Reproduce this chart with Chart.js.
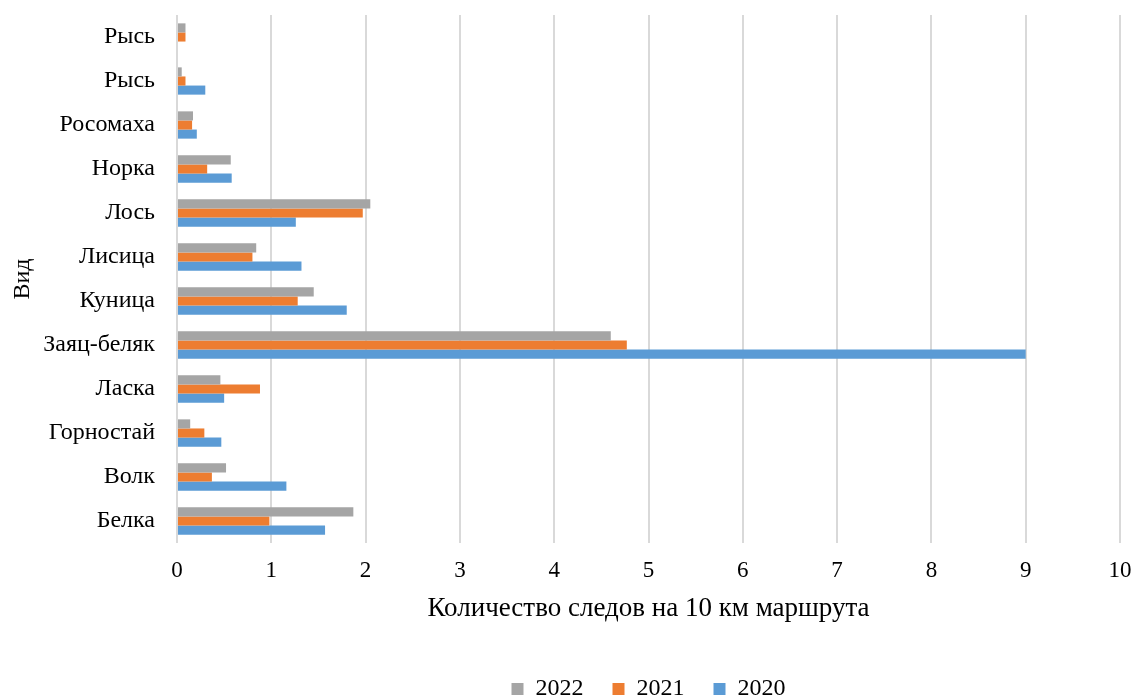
<!DOCTYPE html>
<html>
<head>
<meta charset="utf-8">
<script src="https://cdn.jsdelivr.net/npm/chart.js@4"></script>
<style>
    html, body { margin: 0; padding: 0; background: #fff; }
    #wrap { width: 1134px; height: 700px; }
</style>
</head>
<body>
<div id="wrap"><canvas id="tracks"></canvas></div>
<script>
// Data
var species = ["Рысь", "Рысь", "Росомаха", "Норка", "Лось", "Лисица", "Куница", "Заяц-беляк", "Ласка", "Горностай", "Волк", "Белка"];
var y2022 = [0.09, 0.05, 0.17, 0.57, 2.05, 0.84, 1.45, 4.6, 0.46, 0.14, 0.52, 1.87];
var y2021 = [0.09, 0.09, 0.16, 0.32, 1.97, 0.80, 1.28, 4.77, 0.88, 0.29, 0.37, 0.98];
var y2020 = [0, 0.30, 0.21, 0.58, 1.26, 1.32, 1.80, 9.0, 0.50, 0.47, 1.16, 1.57];
var xTicks = [0, 1, 2, 3, 4, 5, 6, 7, 8, 9, 10];

// Chart Global
Chart.defaults.font.family = "'Liberation Serif', 'Times New Roman', serif";
Chart.defaults.color = "#000000";

var ctx = document.getElementById("tracks").getContext("2d");
var tracksChart = new Chart(ctx, {
    type: "bar",
    data: {
        labels: species,
        datasets: [{
                label: "2022",
                data: y2022,
                backgroundColor: "#a5a5a5"
            },
            {
                label: "2021",
                data: y2021,
                backgroundColor: "#ed7d31"
            },
            {
                label: "2020",
                data: y2020,
                backgroundColor: "#5b9bd5"
            }
        ]
    },
    options: {
        indexAxis: "y",
        responsive: true,
        maintainAspectRatio: false,
        animation: false,
        layout: {
            padding: {top: 15, right: 0, left: 8, bottom: -11}
        },
        datasets: {
            bar: {
                categoryPercentage: 0.62,
                barPercentage: 1.0
            }
        },
        scales: {
            x: {
                min: 0,
                max: 10,
                afterBuildTicks: function (axis) {
                    axis.ticks = xTicks.map(function (v) { return {value: v}; });
                },
                afterFit: function (axis) {
                    axis.paddingLeft = 0;
                    axis.paddingRight = 14;
                },
                grid: {
                    color: "#d9d9d9",
                    lineWidth: 2,
                    drawTicks: false
                },
                border: {display: false},
                ticks: {
                    padding: 14,
                    font: {size: 23}
                },
                title: {
                    display: true,
                    text: "Количество следов на 10 км маршрута",
                    font: {size: 27},
                    padding: {top: -6, bottom: 23}
                }
            },
            y: {
                afterFit: function (axis) {
                    axis.width = 169;
                    axis.paddingTop = 0;
                    axis.paddingBottom = 0;
                },
                grid: {display: false, drawTicks: false},
                border: {display: false},
                ticks: {
                    padding: 22,
                    font: {size: 24}
                },
                title: {
                    display: true,
                    text: "Вид",
                    font: {size: 24},
                    padding: {top: 0, bottom: 7}
                }
            }
        },
        plugins: {
            legend: {
                position: "bottom",
                fullSize: false,
                labels: {
                    boxWidth: 12,
                    boxHeight: 12,
                    padding: 29,
                    font: {size: 24}
                }
            },
            tooltip: {enabled: false}
        }
    }
});
</script>
</body>
</html>
